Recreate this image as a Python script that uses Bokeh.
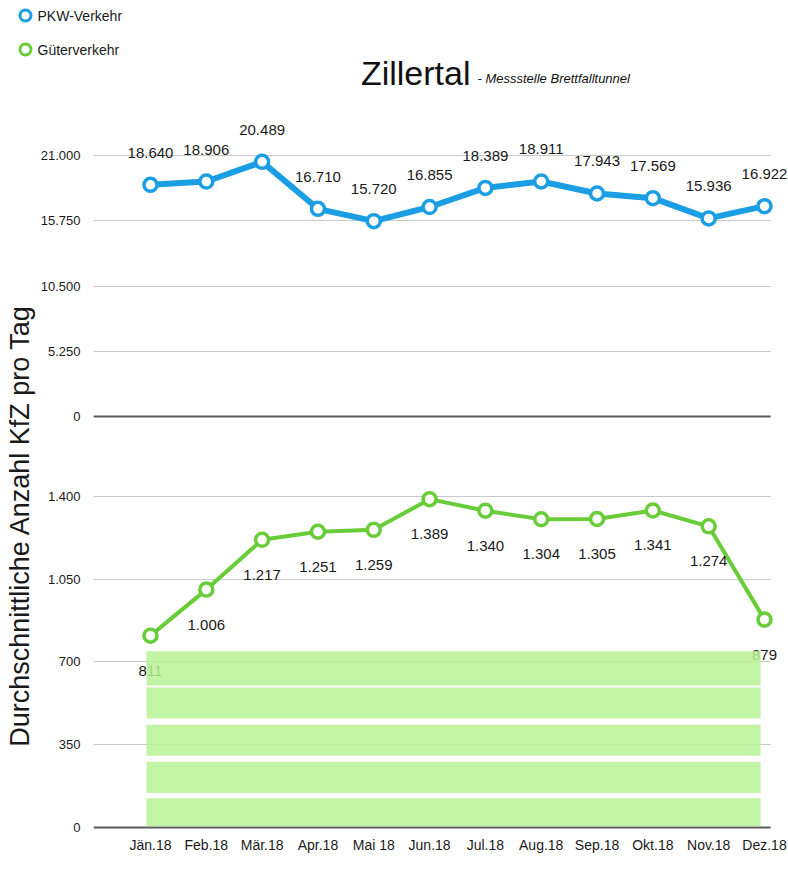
import math
from bokeh.plotting import figure
from bokeh.models import (Range1d, FixedTicker, LabelSet, ColumnDataSource, Label, Grid)
from bokeh.layouts import column, row
from bokeh.embed import file_html
from bokeh.resources import INLINE
from bokeh.core.properties import value

# ---------------- data ----------------
months = ["Jän.18", "Feb.18", "Mär.18", "Apr.18", "Mai 18", "Jun.18",
          "Jul.18", "Aug.18", "Sep.18", "Okt.18", "Nov.18", "Dez.18"]
pkw = [18640, 18906, 20489, 16710, 15720, 16855, 18389, 18911, 17943, 17569, 15936, 16922]
gueter = [811, 1006, 1217, 1251, 1259, 1389, 1340, 1304, 1305, 1341, 1274, 879]
pkw_ticks = [0, 5250, 10500, 15750, 21000]
gueter_ticks = [0, 350, 700, 1050, 1400]
series_names = ["PKW-Verkehr", "Güterverkehr"]
title_text = "Zillertal"
subtitle_text = "- Messstelle Brettfalltunnel"
# decorative light-green bands in the lower panel (value ranges)
band_bottom = [4, 145, 302, 460, 600]
band_top = [123, 277, 434, 591, 745]
band_left = [-0.072] * 5
band_right = [10.93] * 5


def de(v):
    return f"{v:,}".replace(",", ".")


BLUE = "#1c9ee4"
GREEN = "#69cd3a"
BAND = "#b8f195"
FONT = "Liberation Sans"
TXT = "#1a1a1a"

idx = list(range(len(months)))
src = ColumnDataSource(dict(
    x=idx, pkw=pkw, gueter=gueter,
    pkw_lbl=[de(v) for v in pkw], gueter_lbl=[de(v) for v in gueter]))
band_src = ColumnDataSource(dict(left=band_left, right=band_right,
                                 bottom=band_bottom, top=band_top))

xr = Range1d(-1.021, 11.43)
grid_span = (-1.021, 11.108)

LEFT_W = 37
PANEL_W = 788 - LEFT_W

# ---------------- header (legend + title) ----------------
header = figure(width=788, height=108, x_range=Range1d(0, 788), y_range=Range1d(0, 108),
                x_axis_location=None, y_axis_location=None, toolbar_location=None,
                output_backend="svg", min_border=0, title=None)
header.outline_line_color = None
header.grid.visible = False
leg_src = ColumnDataSource(dict(x=[25, 25], y=[93, 59], tx=[37, 37],
                                name=series_names, color=[BLUE, GREEN]))
header.scatter(x="x", y="y", source=leg_src, marker="circle", size=11, fill_color="white",
               line_color="color", line_width=3)
header.text(x="tx", y="y", text="name", source=leg_src, text_align="left",
            text_baseline="middle", text_font=value(FONT), text_font_size="14px",
            text_color=TXT)
header.text(x=[470], y=[36], text=value(title_text), text_align="right",
            text_baseline="middle", text_font=value(FONT), text_font_size="34px",
            text_color="#111111")
header.text(x=[477], y=[30], text=value(subtitle_text), text_align="left",
            text_baseline="middle", text_font=value(FONT), text_font_size="13px",
            text_font_style="italic", text_color="#111111")

# ---------------- left (rotated axis title) ----------------
left = figure(width=LEFT_W, height=762, x_range=Range1d(0, LEFT_W), y_range=Range1d(0, 762),
              x_axis_location=None, y_axis_location=None, toolbar_location=None,
              output_backend="svg", min_border=0, title=None)
left.outline_line_color = None
left.grid.visible = False
left.add_layout(Label(x=19, y=345, text="Durchschnittliche Anzahl KfZ pro Tag",
                      angle=math.pi / 2, text_align="center", text_baseline="middle",
                      text_font_size="27px", text_font=FONT, text_color=TXT))


def style_y(p, ticks):
    p.yaxis.ticker = FixedTicker(ticks=ticks)
    p.yaxis.major_label_overrides = {t: de(t) for t in ticks}
    p.yaxis.axis_line_color = None
    p.yaxis.major_tick_line_color = None
    p.yaxis.minor_tick_line_color = None
    p.yaxis.major_label_standoff = 7
    p.yaxis.major_label_text_font = FONT
    p.yaxis.major_label_text_font_size = "13px"
    p.yaxis.major_label_text_color = TXT
    p.ygrid.grid_line_color = "#c9c9c9"
    p.ygrid.grid_line_width = 1
    p.ygrid.cross_bounds = grid_span
    p.xgrid.visible = False
    p.outline_line_color = None
    p.add_layout(Grid(dimension=1, ticker=FixedTicker(ticks=[0]), grid_line_color="#5a5a5a",
                      grid_line_width=2, cross_bounds=grid_span))


# ---------------- top panel (PKW) ----------------
top = figure(width=PANEL_W, height=342, x_range=xr, y_range=Range1d(-1931, 24782),
             x_axis_location=None, toolbar_location=None, output_backend="svg", title=None,
             min_border_left=49, min_border_right=0, min_border_top=0, min_border_bottom=10)
style_y(top, pkw_ticks)
top.line(x="x", y="pkw", source=src, line_color=BLUE, line_width=6, line_join="round")
top.scatter(x="x", y="pkw", source=src, marker="circle", size=13, fill_color="white",
            line_color=BLUE, line_width=3.5)
top.add_layout(LabelSet(x="x", y="pkw", text="pkw_lbl", source=src, text_align="center",
                        text_baseline="middle", y_offset=32, text_font_size="15px",
                        text_font=value(FONT), text_color=TXT))

# ---------------- bottom panel (Güter) ----------------
bot = figure(width=PANEL_W, height=420, x_range=xr, y_range=Range1d(-14, 1595),
             toolbar_location=None, output_backend="svg", title=None,
             min_border_left=49, min_border_right=0, min_border_top=0, min_border_bottom=40)
style_y(bot, gueter_ticks)
bot.xaxis.ticker = FixedTicker(ticks=idx)
bot.xaxis.major_label_overrides = {i: m for i, m in zip(idx, months)}
bot.xaxis.axis_line_color = None
bot.xaxis.major_tick_line_color = None
bot.xaxis.minor_tick_line_color = None
bot.xaxis.major_label_standoff = 0
bot.xaxis.major_label_text_font = FONT
bot.xaxis.major_label_text_font_size = "14px"
bot.xaxis.major_label_text_color = TXT

bot.line(x="x", y="gueter", source=src, line_color=GREEN, line_width=4, line_join="round")
bot.scatter(x="x", y="gueter", source=src, marker="circle", size=13, fill_color="white",
            line_color=GREEN, line_width=3.5)
bot.add_layout(LabelSet(x="x", y="gueter", text="gueter_lbl", source=src, text_align="center",
                        text_baseline="middle", y_offset=-35, text_font_size="15px",
                        text_font=value(FONT), text_color=TXT))
bot.quad(left="left", right="right", bottom="bottom", top="top", source=band_src,
         fill_color=BAND, fill_alpha=0.85, line_color=None, level="overlay")

layout = column(header, row(left, column(top, bot)))

open("out.html", "w").write(file_html(layout, INLINE))
